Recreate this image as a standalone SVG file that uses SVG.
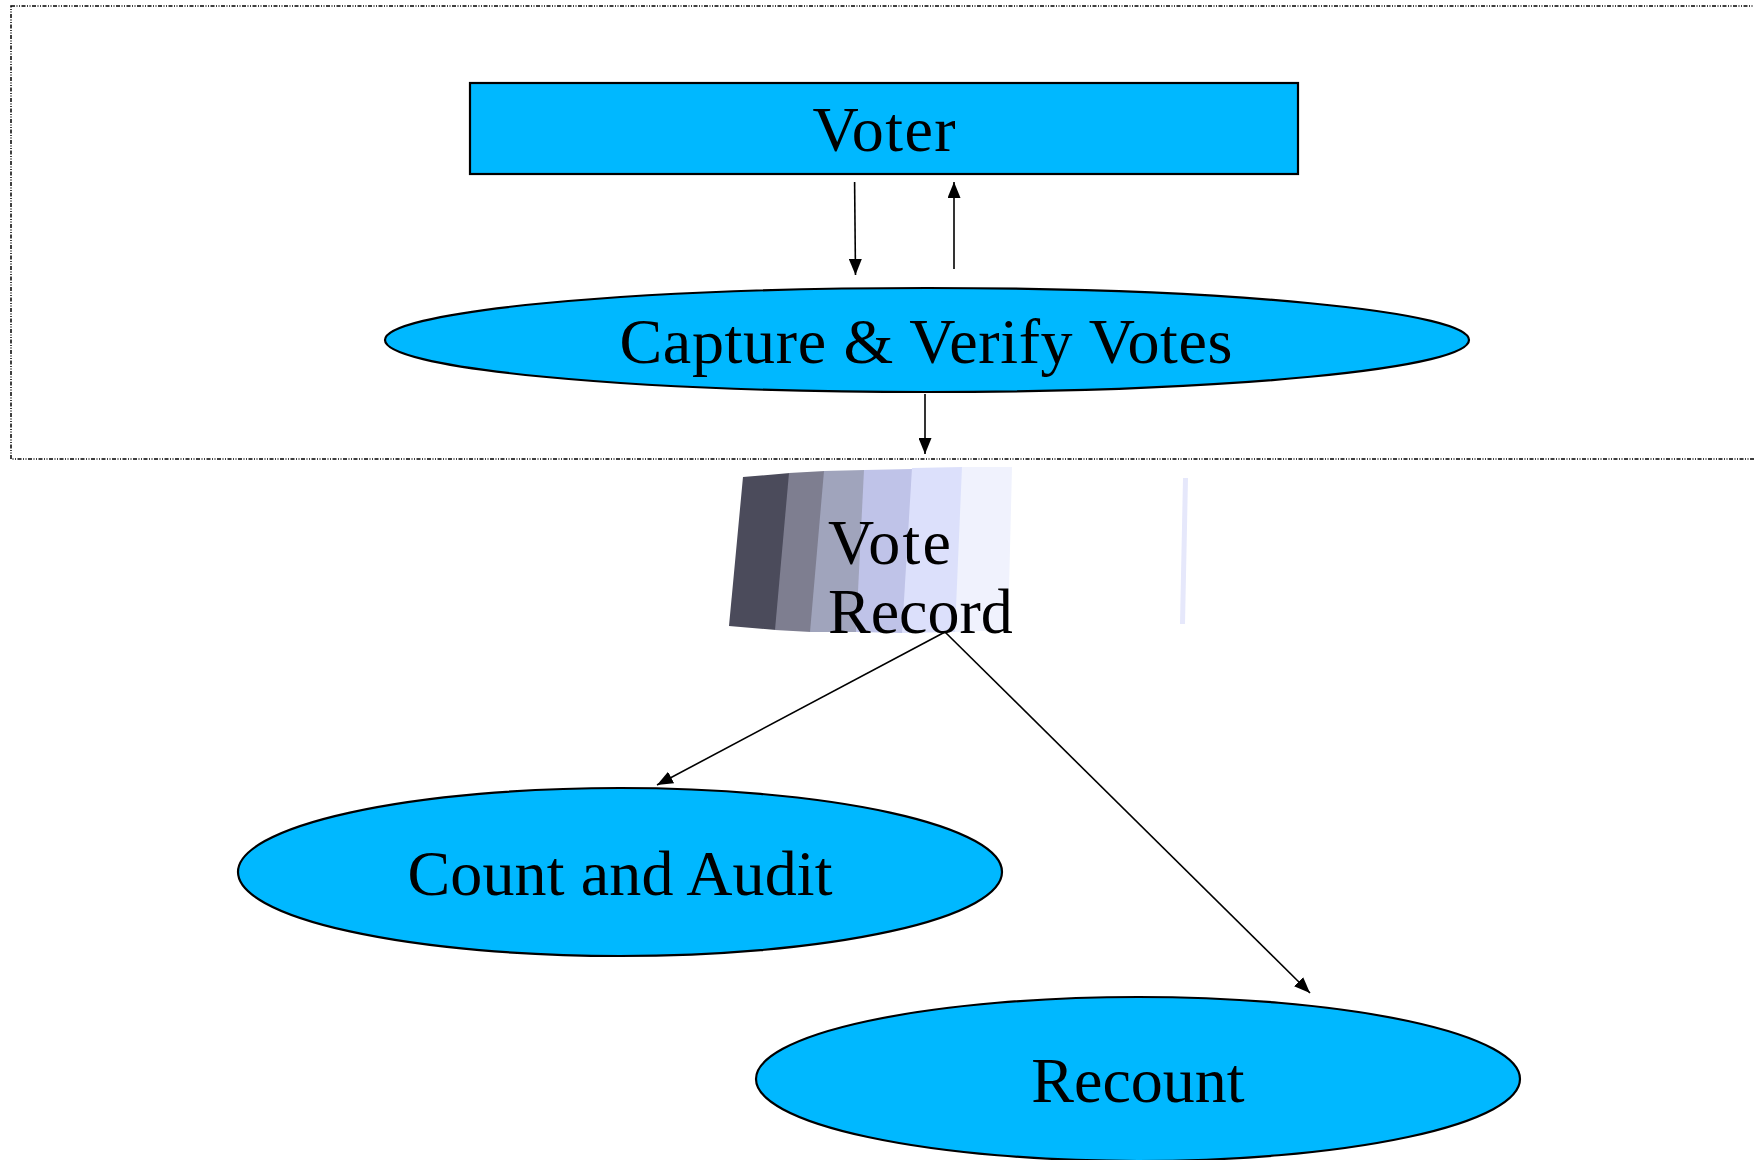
<svg xmlns="http://www.w3.org/2000/svg" width="1754" height="1160" viewBox="0 0 1754 1160">
<style>
.node{fill:#00b8ff;stroke:#000;stroke-width:2.2}
.lbl{font-family:"Liberation Serif","Times New Roman",serif;font-size:64px;fill:#000}
.conn{stroke:#000;stroke-width:1.6;fill:none;marker-end:url(#ah)}
.frame{fill:none;stroke:#000;stroke-width:1.5;stroke-dasharray:4 1.5 1 1.5 1 1.5}
</style>
<defs>
<marker id="ah" markerUnits="userSpaceOnUse" markerWidth="16" markerHeight="13" refX="16" refY="6.5" orient="auto">
<path d="M0,0 L16,6.5 L0,13 z" fill="#000"/>
</marker>
</defs>
<rect width="1754" height="1160" fill="#fff"/>
<rect class="frame" x="11" y="6" width="1800" height="453"/>
<g id="voter">
<rect class="node" x="470" y="83" width="828" height="91"/>
<text class="lbl" x="884" y="151" text-anchor="middle" textLength="143">Voter</text>
</g>
<g id="capture">
<ellipse class="node" cx="927" cy="340" rx="542" ry="52"/>
<text class="lbl" x="926" y="363" text-anchor="middle" textLength="613">Capture &amp; Verify Votes</text>
</g>
<g id="vote-record">
<polygon points="743,477 790,473 776,630 729,626" fill="#4b4b5b"/>
<polygon points="789,473 825,471 811,632 775,630" fill="#7e7e90"/>
<polygon points="824,471 865,470 857,632 810,632" fill="#a0a4bc"/>
<polygon points="864,470 913,469 903,633 856,632" fill="#bfc3e8"/>
<polygon points="912,468 963,467 956,632 902,633" fill="#dce0fb"/>
<polygon points="962,467 1012,467 1008,630 955,632" fill="#f0f2fd"/>
<polygon points="1183,478 1188,478 1185,624 1180,624" fill="#e6e8fb"/>
<text class="lbl" x="828" y="564" textLength="123">Vote</text>
<text class="lbl" x="828" y="633">Record</text>
</g>
<g id="count-audit">
<ellipse class="node" cx="620" cy="872" rx="382" ry="84"/>
<text class="lbl" x="620" y="895" text-anchor="middle" textLength="425">Count and Audit</text>
</g>
<g id="recount">
<ellipse class="node" cx="1138" cy="1079" rx="382" ry="82"/>
<text class="lbl" x="1138" y="1102" text-anchor="middle">Recount</text>
</g>
<g id="connectors">
<line class="conn" x1="854.6" y1="182" x2="855.5" y2="275"/>
<line class="conn" x1="954" y1="269" x2="954" y2="182"/>
<line class="conn" x1="925" y1="394" x2="925" y2="454"/>
<line class="conn" x1="945" y1="632" x2="657" y2="785"/>
<line class="conn" x1="945" y1="632" x2="1310" y2="993"/>
</g>
</svg>
